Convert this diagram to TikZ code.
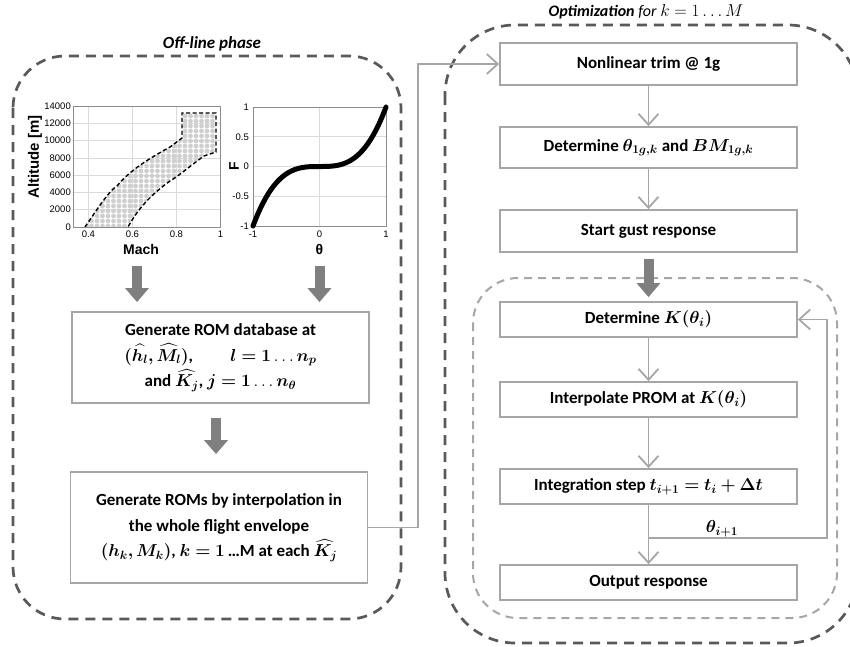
\documentclass[tikz,border=0pt]{standalone}
\usepackage{fontspec}
\usepackage{amsmath,bm}
\setmainfont{Carlito}
\newfontfamily\plotfont{Liberation Sans}
\usetikzlibrary{arrows.meta}
\definecolor{boxgray}{HTML}{A6A6A6}
\definecolor{outergray}{HTML}{595959}
\definecolor{innergray}{HTML}{A6A6A6}
\definecolor{arrgray}{HTML}{7F7F7F}
\definecolor{gridgray}{HTML}{DADADA}
\definecolor{dotgray}{HTML}{CFCFCF}
\definecolor{framegray}{HTML}{8C8C8C}
\begin{document}
\begin{tikzpicture}[x=1pt,y=-1pt,
  box/.style={draw=boxgray, line width=1.8pt, fill=white, font=\bfseries\fontsize{17}{25.5}\selectfont, align=center, minimum width=297pt, inner sep=2pt},
  flow/.style={draw=boxgray, line width=1.8pt, -{Straight Barb[length=11pt,width=20pt,line width=1.8pt]}},
  bigarrow/.style={draw=arrgray, line width=10pt, -{Triangle[length=14pt,width=23pt]}},
  outerframe/.style={draw=outergray, line width=2.7pt, dash pattern=on 10pt off 7pt},
  innerframe/.style={draw=innergray, line width=2pt, dash pattern=on 8pt off 6pt},
  title/.style={font=\bfseries\itshape\fontsize{17}{20}\selectfont},
  ticklab/.style={font=\plotfont\fontsize{9.5}{11}\selectfont, inner sep=1pt},
  axlab/.style={font=\plotfont\bfseries\fontsize{14}{16}\selectfont, inner sep=0pt},
  gridline/.style={draw=gridgray, line width=0.6pt},
  axframe/.style={draw=framegray, line width=0.7pt}
]
\useasboundingbox (0,0) rectangle (850,646);
\clip (0,0) rectangle (850,646);

% ---------- frames ----------
\draw[outerframe, rounded corners=52pt] (13,56) rectangle (401,619);
\draw[outerframe, rounded corners=70pt] (445,25) rectangle (858,643);
\draw[innerframe, rounded corners=45pt] (473,278) rectangle (837,618);
\node[title] (offtitle) at (212,44) {Off-line phase};
\node[title, font=\bfseries\itshape\fontsize{16}{19}\selectfont] (opttitle) at (646,12) {Optimization \mdseries\textit{for} $k=1\ldots M$};

% ---------- plot 1: flight envelope ----------
\foreach \xx in {88.4,132.4,176.4} \draw[gridline] (\xx,106) -- (\xx,227);
\foreach \yy in {123.3,140.6,157.9,175.1,192.4,209.7} \draw[gridline] (73,\yy) -- (220.4,\yy);
\begin{scope}
\clip (85,227) .. controls (100,205) and (110,190) .. (117,186) .. controls (130,170) and (150,158) .. (170,147) -- (182,138) -- (182,113) -- (216,113) -- (216,152) -- (204,156) .. controls (190,166) and (180,175) .. (170,181) .. controls (155,192) and (140,205) .. (128,227) -- cycle;
\foreach \i in {0,...,26} \foreach \j in {0,...,23}
  \fill[dotgray] ({86+5.5*\i},{226-5*\j}) circle (2.4);
\end{scope}
\draw[black, line width=1.4pt, dash pattern=on 4pt off 2.5pt]
  (85,227) .. controls (100,205) and (110,190) .. (117,186) .. controls (130,170) and (150,158) .. (170,147) -- (182,138) -- (182,113) -- (216,113) -- (216,152) -- (204,156) .. controls (190,166) and (180,175) .. (170,181) .. controls (155,192) and (140,205) .. (128,227);
\draw[axframe] (73,106) rectangle (220.4,227);
\foreach \v/\yy in {0/227,2000/209.7,4000/192.4,6000/175.1,8000/157.9,10000/140.6,12000/123.3,14000/106}
  \node[ticklab, anchor=east] at (72,\yy) {\v};
\foreach \v/\xx in {0.4/88.4,0.6/132.4,0.8/176.4,1/220.4}
  \node[ticklab, anchor=north] at (\xx,230) {\v};
\node[axlab, rotate=90, font=\plotfont\bfseries\fontsize{15}{17}\selectfont] (altlab) at (35,157) {Altitude [m]};
\node[axlab] (machlab) at (141,249) {Mach};

% ---------- plot 2: F(theta) ----------
\draw[gridline] (319.5,107) -- (319.5,226);
\foreach \yy in {136.75,166.5,196.25} \draw[gridline] (253,\yy) -- (386,\yy);
\draw[axframe] (253,107) rectangle (386,226);
\draw[black, line width=5pt, line cap=round, domain=-1:1, samples=80]
  plot ({253+(\x+1)*66.5},{166.5-59.5*\x*\x*\x});
\foreach \v/\yy in {1/107,0.5/136.75,0/166.5,-0.5/196.25,-1/226}
  \node[ticklab, anchor=east] at (250,\yy) {\v};
\foreach \v/\xx in {-1/253,0/319.5,1/386}
  \node[ticklab, anchor=north] at (\xx,230) {\v};
\node[axlab, rotate=90] (flab) at (234,166) {F};
\node[axlab] (thlab) at (319.5,249) {θ};

% ---------- left boxes ----------
\node[box, minimum height=91pt] (rom) at (220.5,357.5)
  {Generate ROM database at\\
   $\bm{(\widehat{h_l},\widehat{M_l})}$,\hspace{2.2em}$\bm{l=1}\ldots\bm{n_p}$\\
   and $\bm{\widehat{K_j}}$, $\bm{j=1}\ldots\bm{n_\theta}$};
\node[box, minimum height=111pt] (roms) at (219,527.5)
  {Generate ROMs by interpolation in\\
   the whole flight envelope\\
   $\bm{(h_k,M_k)}$, $\bm{k=1}$\,…M at each $\bm{\widehat{K_j}}$};

\coordinate (plot1) at (137,266);
\coordinate (plot2) at (319.5,266);
\draw[bigarrow, shorten >=9pt] (plot1) -- (plot1 |- rom.north);
\draw[bigarrow, shorten >=9pt] (plot2) -- (plot2 |- rom.north);
\draw[bigarrow, shorten <=14pt, shorten >=17pt] (rom.south -| 216,0) -- (roms.north -| 216,0);

% ---------- right boxes ----------
\node[box, minimum height=42pt] (trim) at (648.5,64) {Nonlinear trim @ 1g};
\node[box, minimum height=41pt] (det1) at (648.5,147.5) {Determine $\bm{\theta_{1g,k}}$ and $\bm{BM_{1g,k}}$};
\node[box, minimum height=42pt] (gust) at (648.5,231) {Start gust response};
\node[box, minimum height=35pt] (detK) at (648.5,319.5) {Determine $\bm{K(\theta_i)}$};
\node[box, minimum height=35pt] (interp) at (648.5,399.5) {Interpolate PROM at $\bm{K(\theta_i)}$};
\node[box, minimum height=35pt] (integ) at (648.5,486.5) {Integration step $\bm{t_{i+1}=t_i+\Delta t}$};
\node[box, minimum height=35pt] (out) at (648.5,582.5) {Output response};

% ---------- connectors ----------
\coordinate (bend) at (418,0);
\draw[flow] (roms.east) -| (bend |- trim.west) -- (trim.west);
\draw[flow] (trim) -- (det1);
\draw[flow] (det1) -- (gust);
\draw[bigarrow, shorten <=6pt, shorten >=4pt] (gust) -- (detK);
\draw[flow] (detK) -- (interp);
\draw[flow] (interp) -- (integ);
\draw[flow] (integ) -- (out);
\coordinate (fb) at (827,538);
\draw[flow] (integ.south |- fb) -- (fb) |- (detK.east);
\node[font=\fontsize{17}{20}\selectfont, inner sep=0pt] (thlabel) at (722,529) {$\bm{\theta_{i+1}}$};
\end{tikzpicture}
\end{document}
